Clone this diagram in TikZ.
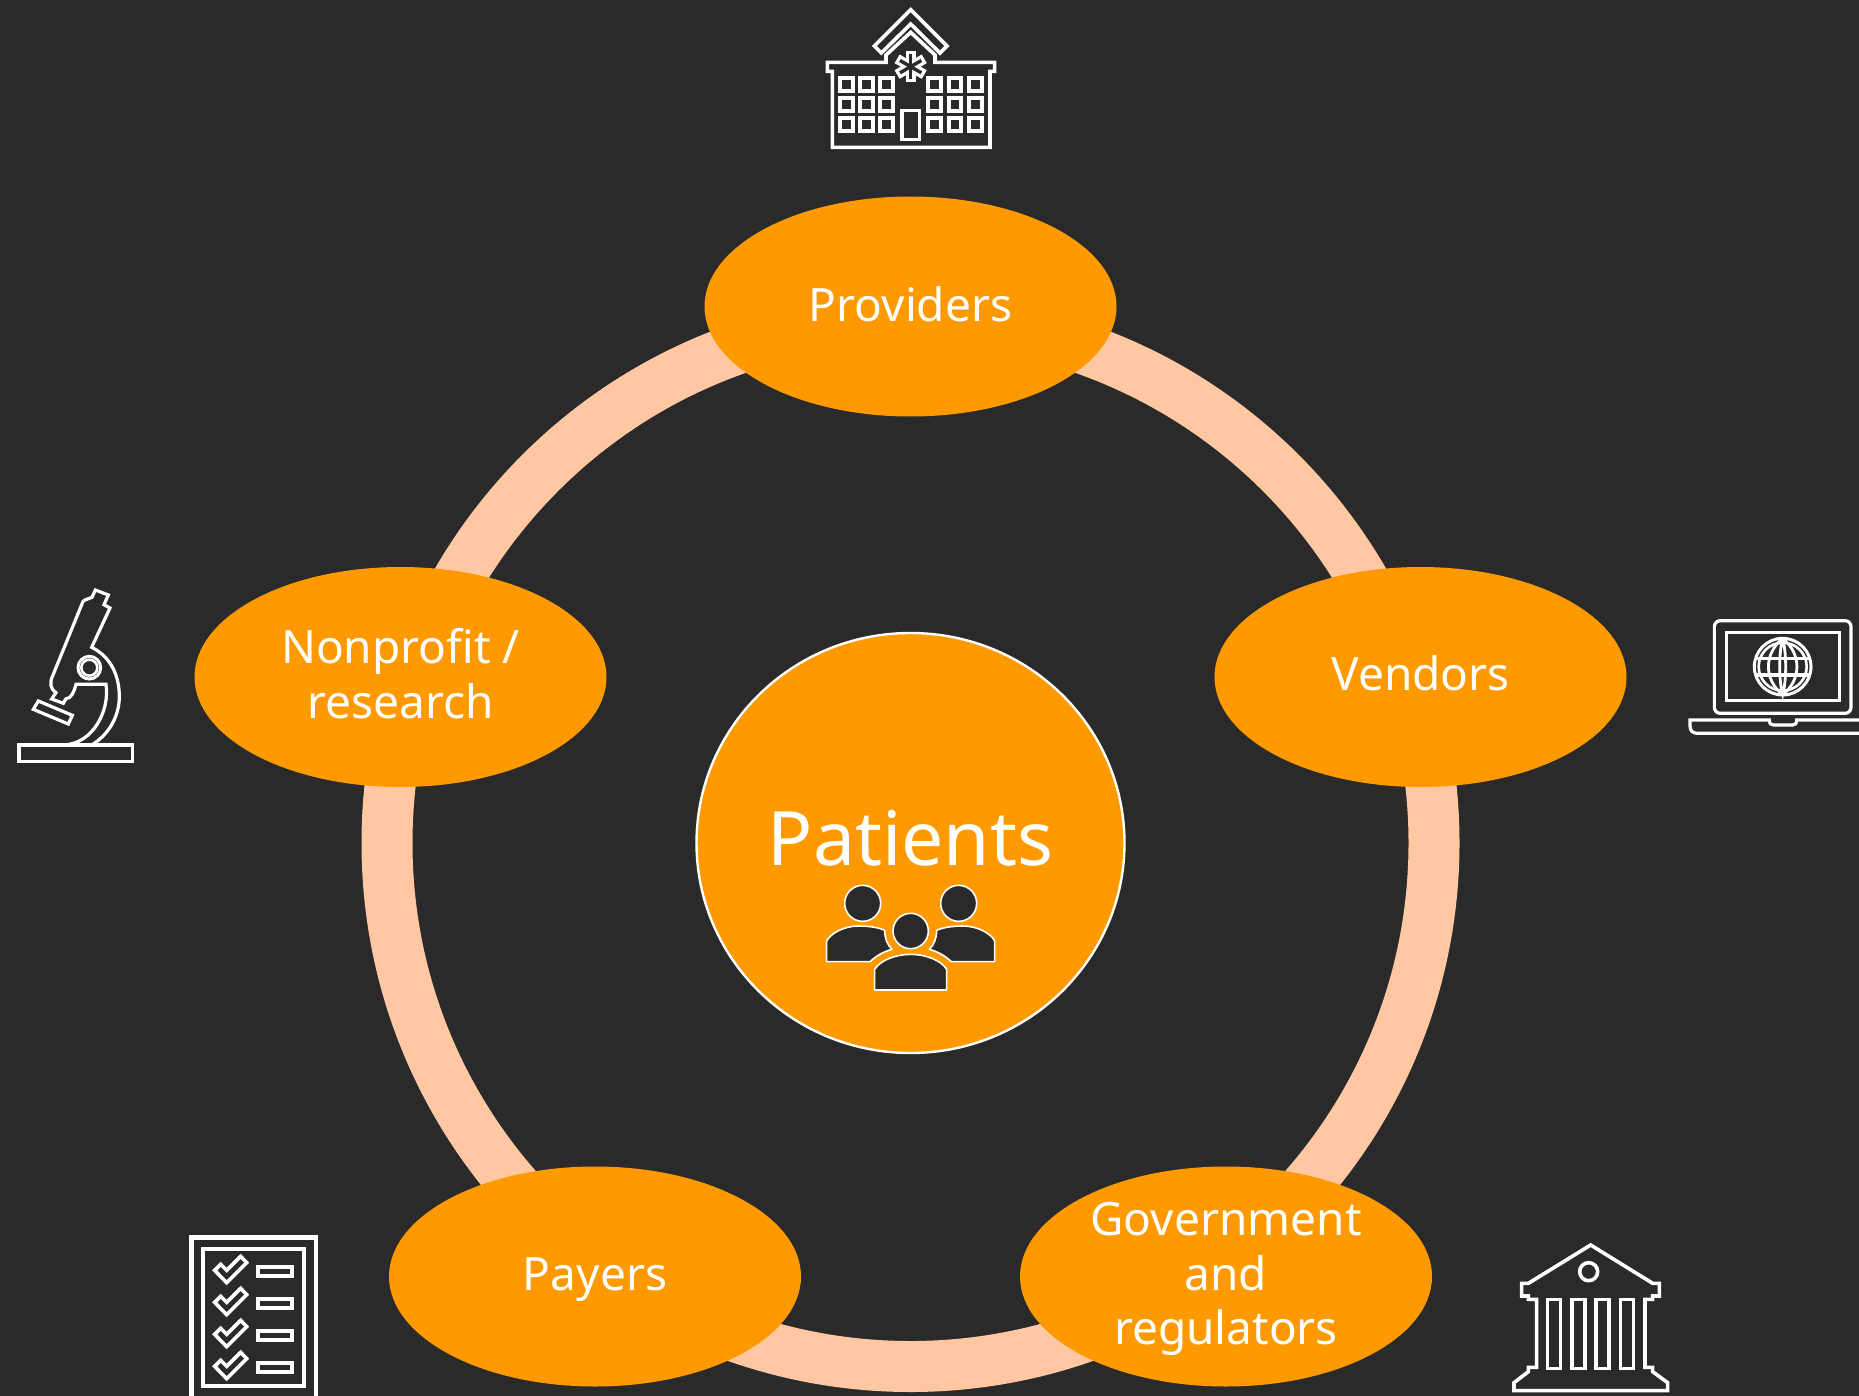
\documentclass[tikz,border=0pt]{standalone}
\usepackage{fontspec}
\setmainfont{Noto Sans}
\usetikzlibrary{shapes.geometric}
\definecolor{bgdark}{HTML}{2A2A2A}
\definecolor{awsorange}{HTML}{FF9900}
\definecolor{ringpeach}{HTML}{FFC8A2}
\newcommand\topstrut{\rule{0pt}{40pt}}
\newcommand\botstrut[1]{\rule[-#1pt]{0pt}{#1pt}}
\tikzset{
  stake/.style={ellipse,fill=awsorange,text=white,inner sep=-8pt,minimum width=412pt,minimum height=220pt,align=center,font=\fontsize{46}{54.5}\selectfont},
  icon/.style={draw=white,line width=3.6pt,line join=miter,fill=none},
  thinicon/.style={draw=white,line width=3.2pt,line join=miter,fill=none},
  person/.style={draw=white,line width=1.6pt,fill=bgdark,line join=round},
  zoomed/.style={x=0.33333pt,y=-0.33333pt}
}
\begin{document}
\begin{tikzpicture}[x=1pt,y=-1pt]
\useasboundingbox (0,0) rectangle (1859,1396);
\fill[bgdark] (0,0) rectangle (1859,1396);
\clip (0,0) rectangle (1859,1396);
\coordinate (hub) at (910.5,843);
% ring
\draw[ringpeach,line width=51pt] (hub) circle [radius=523.5];
% stakeholders
\node[stake] (providers) at (910.5,306.5) {\topstrut Providers\botstrut{10}};
\node[stake] (vendors) at (1420.5,677) {\topstrut Vendors\botstrut{13}};
\node[stake] (nonprofit) at (400.5,677) {\topstrut Nonprofit /\\research\botstrut{12}};
\node[stake] (payers) at (595,1276.5) {\topstrut Payers\botstrut{11}};
\node[stake] (government) at (1226,1276.5) {\topstrut Government\\and\\regulators\botstrut{13}};
% centre
\node[ellipse,fill=awsorange,draw=white,line width=2.4pt,inner sep=0pt,minimum width=428pt,minimum height=420pt] (patients) at (hub) {};
\node[text=white,inner sep=0pt,font=\fontsize{75}{80}\selectfont] (patientslabel) at (910.5,838) {Patients};
% people icon
\begin{scope}[shift={(800,860)},zoomed]
  \draw[person] (188,130) circle [radius=54];
  \draw[person] (476,130) circle [radius=54];
  \draw[person] (332,213) circle [radius=53];
  \draw[person] (80,305) -- (80,243) .. controls (90,222) and (130,198) .. (175,198) .. controls (205,198) and (235,202) .. (254,211) .. controls (254,235) and (262,255) .. (276,268) .. controls (250,275) and (228,288) .. (210,305) -- cycle;
  \draw[person] (584,305) -- (584,243) .. controls (574,222) and (534,198) .. (489,198) .. controls (459,198) and (429,202) .. (410,211) .. controls (410,235) and (402,255) .. (388,268) .. controls (414,275) and (436,288) .. (454,305) -- cycle;
  \draw[person] (224,390) -- (224,328) .. controls (240,302) and (285,283) .. (332,283) .. controls (379,283) and (424,302) .. (440,328) -- (440,390) -- cycle;
\end{scope}
% hospital
\begin{scope}[shift={(800,0)},zoomed]
  \draw[icon] (332,29) -- (441,138) -- (420,159) -- (332,72) -- (244,159) -- (223,138) -- cycle;
  \draw[icon] (258,165) -- (332,97) -- (405,165) -- (405,187) -- (584,187) -- (584,214) -- (570,214) -- (570,442) -- (97,442) -- (97,214) -- (82,214) -- (82,187) -- (258,187) -- cycle;
  \foreach \wx in {120,181,241,385,446,507}
    \foreach \wy in {235,295,355}
      \draw[draw=white,line width=4pt] (\wx,\wy) rectangle ++(38,38);
  \draw[icon] (306,331) rectangle (358,418);
  \foreach \a in {0,60,120}{
    \draw[white,line width=10pt] (332,200) ++(90+\a:47) -- ++(270+\a:94);
  }
  \foreach \a in {0,60,120}{
    \draw[bgdark,line width=3.4pt] (332,200) ++(90+\a:37) -- ++(270+\a:74);
  }
\end{scope}
% microscope
\begin{scope}[shift={(0,570)},zoomed]
  \draw[thinicon] (250,92) -- (276,82) -- (286,60) -- (325,75) -- (312,104) -- (330,114) -- (275,232) .. controls (335,262) and (358,320) .. (358,380) .. controls (358,440) and (325,495) .. (275,525);
  \draw[thinicon] (250,92) -- (157,320) .. controls (148,340) and (152,358) .. (168,368) -- (155,387) -- (190,400) -- (197,387) .. controls (215,385) and (222,365) .. (228,343) -- (318,343) .. controls (330,420) and (280,522) .. (190,525);
  \draw[thinicon] (57,525) rectangle (397,575);
  \draw[thinicon] (115,393) -- (217,436) -- (205,462) -- (100,418) -- cycle;
  \draw[white,line width=3pt] (268,293) circle [radius=34];
  \draw[white,line width=2.6pt] (268,293) circle [radius=24];
\end{scope}
% laptop
\begin{scope}[shift={(1670,600)},zoomed]
  \draw[thinicon,rounded corners=6pt] (133,340) -- (133,62) -- (543,62) -- (543,340) -- cycle;
  \draw[icon] (170,97) rectangle (508,302);
  \draw[thinicon] (620,360) -- (380,360) .. controls (380,370) and (376,375) .. (368,375) -- (310,375) .. controls (302,375) and (298,370) .. (298,360) -- (60,360) -- (60,378) .. controls (60,392) and (68,400) .. (82,400) -- (620,400);
  \draw[white,line width=3pt] (338,200) circle [radius=85];
  \draw[white,line width=2.6pt] (338,200) circle [radius=72];
  \draw[white,line width=2.8pt] (338,116) .. controls (395,160) and (395,240) .. (338,284) .. controls (281,240) and (281,160) .. (338,116);
  \draw[white,line width=2.8pt] (338,116) .. controls (350,160) and (350,240) .. (338,284) .. controls (326,240) and (326,160) .. (338,116);
  \draw[white,line width=3.2pt] (258,175) -- (418,175);
  \draw[white,line width=3.2pt] (258,225) -- (418,225);
\end{scope}
% checklist
\begin{scope}[shift={(170,1220)},zoomed]
  \draw[draw=white,line width=4.4pt] (65,52) rectangle (438,560);
  \draw[draw=white,line width=4pt] (100,88) rectangle (402,497);
  \foreach \dy in {0,96,192,288}{
    \draw[icon] (134,151+\dy) -- (152,133+\dy) -- (170,151+\dy) -- (212,109+\dy) -- (230,128+\dy) -- (170,188+\dy) -- cycle;
    \draw[draw=white,line width=4pt] (263,141+\dy) rectangle ++(103,26);
  }
\end{scope}
% bank
\begin{scope}[shift={(1500,1230)},zoomed]
  \draw[icon] (272,45) -- (458,160) -- (478,160) -- (478,198) -- (458,198) -- (458,208) -- (435,208) -- (435,412) -- (458,412) -- (458,425) -- (503,458) -- (503,482) -- (42,482) -- (42,458) -- (85,425) -- (85,412) -- (110,412) -- (110,208) -- (85,208) -- (85,198) -- (65,198) -- (65,160) -- (85,160) -- cycle;
  \foreach \cx in {143,216,288,362}
    \draw[icon] (\cx,208) rectangle ++(39,207);
  \draw[icon] (266,125) circle [radius=27];
\end{scope}
\end{tikzpicture}
\end{document}
